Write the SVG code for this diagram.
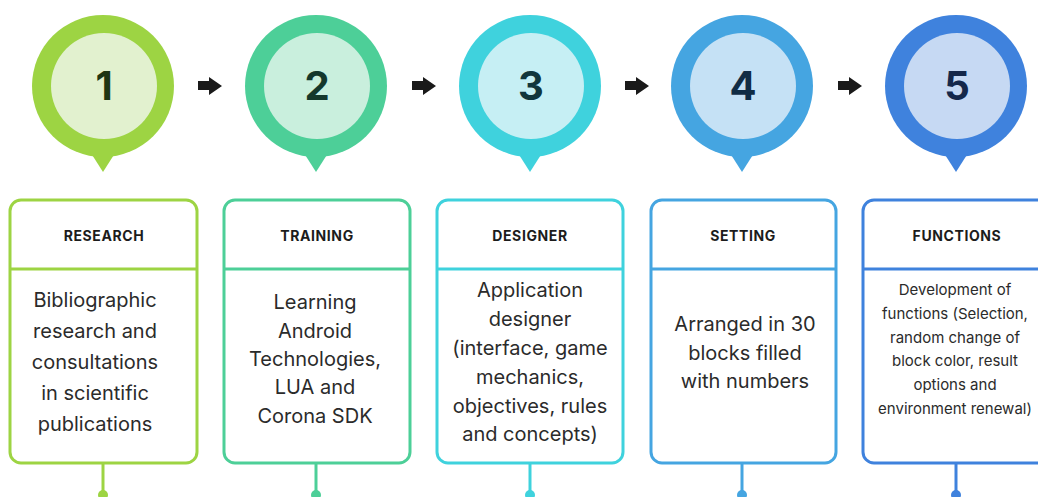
<svg xmlns="http://www.w3.org/2000/svg" width="1038" height="497" viewBox="0 0 1038 497">
<style>
.hdr{font-family:Inter,"Liberation Sans",sans-serif;font-weight:700;font-size:14px;fill:#1c1c1c;text-anchor:middle;letter-spacing:0.6px}
.body{font-family:Inter,"Liberation Sans",sans-serif;font-size:20px;fill:#2b2b2b;text-anchor:middle}
.small{font-size:15px}
.num{font-family:Inter,"Liberation Sans",sans-serif;font-weight:700;font-size:40px;text-anchor:middle}
.box{fill:#fff;stroke-width:3}
.arrow{fill:#1a1a1a}
</style>
<rect width="1038" height="497" fill="#fff"/>
<g id="connectors">
<path class="arrow" d="M198 81 H209 V77 L222 86 L209 95 V90 H198 Z"/>
<path class="arrow" d="M412 81 H423 V77 L436 86 L423 95 V90 H412 Z"/>
<path class="arrow" d="M625 81 H636 V77 L649 86 L636 95 V90 H625 Z"/>
<path class="arrow" d="M838 81 H849 V77 L862 86 L849 95 V90 H838 Z"/>
</g>
<g id="step1">
<circle cx="103" cy="86" r="71" fill="#9dd443"/>
<path d="M89 150 L117 150 L103 172 Z" fill="#9dd443"/>
<circle cx="104" cy="86" r="53" fill="#e2f1cf"/>
<text class="num" x="104" y="100" fill="#1f3614">1</text>
<line x1="103" y1="463" x2="103" y2="497" stroke="#9dd443" stroke-width="3"/>
<circle cx="103" cy="495" r="5" fill="#9dd443"/>
<rect class="box" x="10" y="200" width="187" height="263" rx="11" stroke="#9dd443"/>
<line x1="10" y1="269" x2="197" y2="269" stroke="#9dd443" stroke-width="3"/>
<text class="hdr" x="104" y="241">RESEARCH</text>
<text class="body" x="95" y="307">Bibliographic</text>
<text class="body" x="95" y="338">research and</text>
<text class="body" x="95" y="369">consultations</text>
<text class="body" x="95" y="400">in scientific</text>
<text class="body" x="95" y="431">publications</text>
</g>
<g id="step2">
<circle cx="316" cy="86" r="71" fill="#4dcf98"/>
<path d="M302 150 L330 150 L316 172 Z" fill="#4dcf98"/>
<circle cx="317" cy="86" r="53" fill="#c9efdd"/>
<text class="num" x="317" y="100" fill="#14382c">2</text>
<line x1="316" y1="463" x2="316" y2="497" stroke="#4dcf98" stroke-width="3"/>
<circle cx="316" cy="495" r="5" fill="#4dcf98"/>
<rect class="box" x="224" y="200" width="186" height="263" rx="11" stroke="#4dcf98"/>
<line x1="224" y1="269" x2="410" y2="269" stroke="#4dcf98" stroke-width="3"/>
<text class="hdr" x="317" y="241">TRAINING</text>
<text class="body" x="315" y="309">Learning</text>
<text class="body" x="315" y="338">Android</text>
<text class="body" x="315" y="366">Technologies,</text>
<text class="body" x="315" y="394">LUA and</text>
<text class="body" x="315" y="423">Corona SDK</text>
</g>
<g id="step3">
<circle cx="530" cy="86" r="71" fill="#3fd2dd"/>
<path d="M516 150 L544 150 L530 172 Z" fill="#3fd2dd"/>
<circle cx="531" cy="86" r="53" fill="#c6eff4"/>
<text class="num" x="531" y="100" fill="#11363c">3</text>
<line x1="530" y1="463" x2="530" y2="497" stroke="#3fd2dd" stroke-width="3"/>
<circle cx="530" cy="495" r="5" fill="#3fd2dd"/>
<rect class="box" x="437" y="200" width="186" height="263" rx="11" stroke="#3fd2dd"/>
<line x1="437" y1="269" x2="623" y2="269" stroke="#3fd2dd" stroke-width="3"/>
<text class="hdr" x="530" y="241">DESIGNER</text>
<text class="body" x="530" y="297">Application</text>
<text class="body" x="530" y="326">designer</text>
<text class="body" x="530" y="355">(interface, game</text>
<text class="body" x="530" y="384">mechanics,</text>
<text class="body" x="530" y="413">objectives, rules</text>
<text class="body" x="530" y="441">and concepts)</text>
</g>
<g id="step4">
<circle cx="742" cy="86" r="71" fill="#45a5e1"/>
<path d="M728 150 L756 150 L742 172 Z" fill="#45a5e1"/>
<circle cx="743" cy="86" r="53" fill="#c5e1f5"/>
<text class="num" x="743" y="100" fill="#102c44">4</text>
<line x1="742" y1="463" x2="742" y2="497" stroke="#45a5e1" stroke-width="3"/>
<circle cx="742" cy="495" r="5" fill="#45a5e1"/>
<rect class="box" x="651" y="200" width="185" height="263" rx="11" stroke="#45a5e1"/>
<line x1="651" y1="269" x2="836" y2="269" stroke="#45a5e1" stroke-width="3"/>
<text class="hdr" x="743" y="241">SETTING</text>
<text class="body" x="745" y="331">Arranged in 30</text>
<text class="body" x="745" y="360">blocks filled</text>
<text class="body" x="745" y="388">with numbers</text>
</g>
<g id="step5">
<circle cx="956" cy="86" r="71" fill="#3f82dd"/>
<path d="M942 150 L970 150 L956 172 Z" fill="#3f82dd"/>
<circle cx="957" cy="86" r="53" fill="#c6d9f3"/>
<text class="num" x="957" y="100" fill="#15284a">5</text>
<line x1="956" y1="463" x2="956" y2="497" stroke="#3f82dd" stroke-width="3"/>
<circle cx="956" cy="495" r="5" fill="#3f82dd"/>
<rect class="box" x="863" y="200" width="200" height="263" rx="11" stroke="#3f82dd"/>
<line x1="863" y1="269" x2="1038" y2="269" stroke="#3f82dd" stroke-width="3"/>
<text class="hdr" x="957" y="241">FUNCTIONS</text>
<text class="body small" x="955" y="295">Development of</text>
<text class="body small" x="955" y="319">functions (Selection,</text>
<text class="body small" x="955" y="343">random change of</text>
<text class="body small" x="955" y="366">block color, result</text>
<text class="body small" x="955" y="390">options and</text>
<text class="body small" x="955" y="414">environment renewal)</text>
</g>
</svg>
